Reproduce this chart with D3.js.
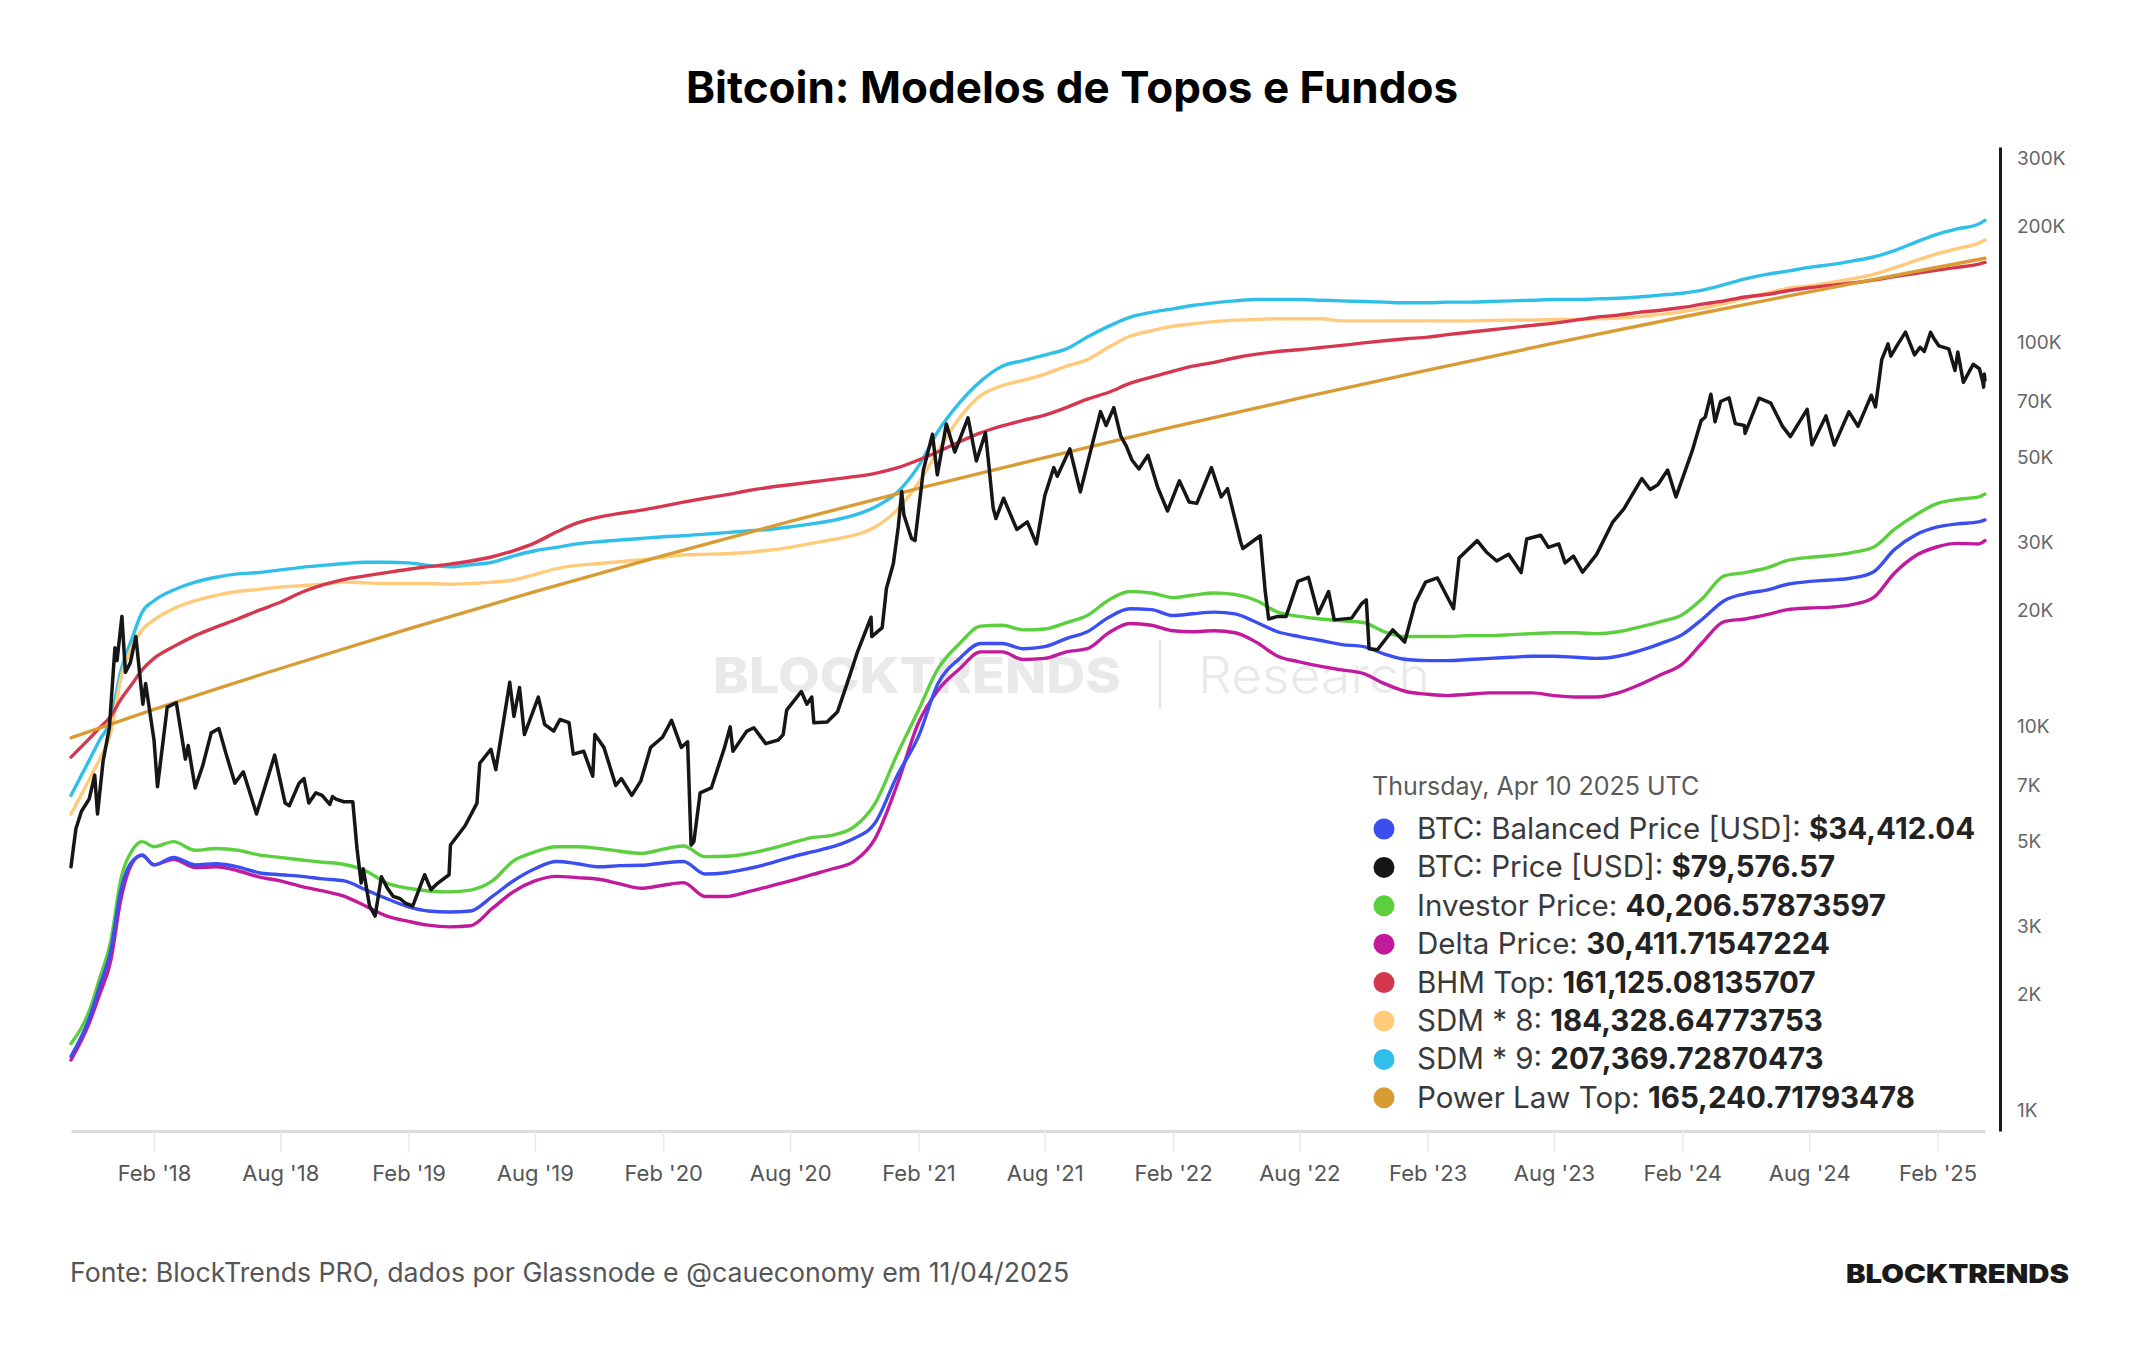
<!DOCTYPE html>
<html>
<head>
<meta charset="utf-8">
<script src="https://cdn.jsdelivr.net/npm/d3@7"></script>
<style>
  html, body { margin: 0; padding: 0; background: #fff; }
  svg { display: block; font-family: Inter, "Open Sans", sans-serif; }
</style>
</head>
<body>
<svg id="chart" width="2144" height="1350"></svg>
<script>
// dates shared by the on-chain model lines
const modelDates = ["2017-10-05","2017-11-01","2017-11-15","2017-12-01","2017-12-15","2018-01-01","2018-01-15",
  "2018-02-01","2018-03-01","2018-04-01","2018-05-01","2018-06-01","2018-07-01","2018-08-01","2018-09-01","2018-10-01","2018-11-01","2018-12-01",
  "2019-01-01","2019-02-01","2019-03-01","2019-04-01","2019-05-01","2019-06-01","2019-07-01","2019-08-01","2019-09-01","2019-10-01","2019-11-01","2019-12-01",
  "2020-01-01","2020-02-01","2020-03-01","2020-04-01","2020-05-01","2020-06-01","2020-07-01","2020-08-01","2020-09-01","2020-10-01","2020-11-01","2020-12-01",
  "2021-01-01","2021-02-01","2021-03-01","2021-04-01","2021-05-01","2021-06-01","2021-07-01","2021-08-01","2021-09-01","2021-10-01","2021-11-01","2021-12-01",
  "2022-01-01","2022-02-01","2022-03-01","2022-04-01","2022-05-01","2022-06-01","2022-07-01","2022-08-01","2022-09-01","2022-10-01","2022-11-01","2022-12-01",
  "2023-01-01","2023-02-01","2023-03-01","2023-04-01","2023-05-01","2023-06-01","2023-07-01","2023-08-01","2023-09-01","2023-10-01","2023-11-01","2023-12-01",
  "2024-01-01","2024-02-01","2024-03-01","2024-04-01","2024-05-01","2024-06-01","2024-07-01","2024-08-01","2024-09-01","2024-10-01","2024-11-01","2024-12-01",
  "2025-01-01","2025-02-01","2025-03-01","2025-04-01","2025-04-10"];

const balancedPrice = [1380,1750,2100,2600,3700,4450,4600,4350,4550,4350,4380,4300,4150,4100,4060,4000,3950,3750,
  3550,3380,3300,3280,3300,3600,3950,4250,4440,4380,4300,4330,
  4340,4400,4440,4120,4150,4250,4380,4550,4700,4850,5100,5600,
  7400,9400,12900,15000,16400,16400,15900,16100,16900,17600,19200,20200,
  20100,19400,19600,19800,19600,18600,17600,17100,16700,16300,16100,15400,
  14900,14800,14800,14900,15000,15100,15200,15200,15100,15000,15200,15700,
  16400,17300,19000,21200,22100,22600,23400,23800,24000,24300,25200,28800,
  31500,33000,33600,34000,34412];

const investorPrice = [1490,1830,2200,2750,3950,4750,5000,4850,5000,4750,4800,4750,4620,4550,4480,4420,4360,4200,
  3900,3780,3720,3700,3740,3950,4450,4700,4850,4850,4800,4720,
  4660,4780,4870,4570,4580,4650,4780,4950,5120,5200,5470,6300,
  8400,11000,14100,16400,18200,18300,17800,17900,18600,19400,21300,22400,
  22200,21600,21900,22200,22000,21200,19800,19300,19000,18800,18600,17600,
  17100,17100,17100,17200,17200,17300,17400,17500,17500,17400,17600,18100,
  18700,19500,21500,24600,25100,25800,27000,27500,27800,28300,29200,32500,
  35500,38000,38900,39500,40207];

const deltaPrice = [1350,1700,2000,2450,3500,4400,4620,4350,4500,4280,4300,4200,4050,3950,3820,3720,3600,3400,
  3200,3100,3030,3000,3020,3350,3700,3950,4060,4030,3990,3880,
  3780,3850,3910,3600,3600,3700,3820,3950,4100,4250,4450,5100,
  7000,10200,12400,14100,15600,15600,14900,15000,15600,15900,17500,18500,
  18300,17700,17600,17700,17500,16500,15200,14700,14300,14000,13700,12900,
  12300,12100,12000,12100,12200,12200,12200,12000,11900,11900,12200,12800,
  13600,14500,16500,18700,19000,19500,20100,20300,20400,20700,21600,25000,
  27800,29300,29900,29800,30412];

const bhmTop = [8300,9300,9900,10600,11700,12900,14000,15000,16100,17200,18100,19000,20000,21000,22300,23300,24100,24600,
  25100,25600,26000,26400,26900,27600,28600,30000,32000,33800,35000,35800,
  36500,37400,38300,39200,40000,41000,41800,42500,43200,43900,44600,45500,
  47000,49300,51800,55000,58000,60500,62500,64500,67500,71000,74000,78000,
  81000,84000,86500,88500,91000,93000,94500,95500,96800,98000,99500,100800,
  102000,103000,104500,106000,107500,109000,110500,112000,114000,116000,117500,119500,
  121000,123000,125500,128000,131000,133000,136000,138500,140500,142500,145000,148000,
  151000,154000,156500,159500,161125];

const sdm8 = [5900,7300,8200,9600,13200,16200,17800,18900,20200,21200,21900,22400,22700,23000,23200,23400,23700,23600,
  23500,23500,23500,23400,23500,23700,24000,24800,25700,26200,26500,26800,
  27100,27500,27900,28000,28100,28300,28700,29200,29900,30600,31400,33000,
  36500,43000,52000,63500,72500,77000,79500,82500,86500,90000,97000,103500,
  107000,110000,111500,113000,114000,114500,115000,115000,115000,113500,113500,113500,
  113500,113500,113500,113500,113800,114000,114000,114500,114500,115000,115500,116500,
  118000,120000,122500,126000,130000,134000,138000,140000,143000,146000,150000,156000,
  163000,170000,175000,181000,184329];

const sdm9 = [6600,8200,9200,10400,13800,17000,19800,21200,22600,23700,24400,24900,25100,25500,25900,26200,26500,26700,
  26700,26600,26200,26000,26300,26700,27700,28600,29200,29800,30200,30500,
  30800,31100,31300,31600,31900,32200,32500,33000,33600,34300,35400,37200,
  40500,47500,58500,69500,79000,86500,89500,92500,96000,103000,110000,116000,
  119500,122000,124500,126500,128000,129000,129000,129000,128500,128000,127500,127000,
  126500,126500,127000,127000,127500,128000,128500,129000,129000,129500,130000,131000,
  132500,134000,136500,141000,146000,150000,153000,156500,159000,162500,166500,173000,
  182000,191000,197000,203000,207370];

const powerDates = ["2017-10-05","2018-02-01","2018-08-01","2019-02-01","2019-08-01","2020-02-01","2020-08-01",
  "2021-02-01","2021-08-01","2022-02-01","2022-08-01","2023-02-01","2023-08-01","2024-02-01","2024-08-01","2025-02-01","2025-04-10"];
const powerLawTop = [9320,11050,14120,17900,22400,27800,34100,41600,50000,60100,71400,84500,99300,116200,135100,156600,165241];

const priceDates = ["2017-10-05","2017-10-12","2017-10-20","2017-10-31","2017-11-08","2017-11-12","2017-11-20","2017-11-29",
  "2017-12-07","2017-12-10","2017-12-17","2017-12-22","2017-12-29","2018-01-06","2018-01-16","2018-01-20","2018-02-01","2018-02-06",
  "2018-02-20","2018-03-05","2018-03-18","2018-03-22","2018-04-01","2018-04-12","2018-04-24","2018-05-05","2018-05-15","2018-05-28","2018-06-09",
  "2018-06-28","2018-07-08","2018-07-24","2018-08-08","2018-08-14","2018-08-28","2018-09-04","2018-09-11","2018-09-21","2018-09-30","2018-10-11",
  "2018-10-15","2018-10-20","2018-10-31","2018-11-13","2018-11-19","2018-11-25","2018-11-28","2018-12-07","2018-12-15","2018-12-24","2019-01-01","2019-01-10",
  "2019-01-20","2019-01-28","2019-02-07","2019-02-24","2019-03-05","2019-03-15","2019-03-31","2019-04-02","2019-04-23","2019-05-10","2019-05-14","2019-05-30",
  "2019-06-06","2019-06-26","2019-07-02","2019-07-10","2019-07-17","2019-08-06","2019-08-15","2019-08-28","2019-09-06","2019-09-13","2019-09-19","2019-09-25",
  "2019-10-10","2019-10-23","2019-10-26","2019-11-08","2019-11-25","2019-12-03","2019-12-18","2019-12-31","2020-01-14","2020-01-31","2020-02-13",
  "2020-02-27","2020-03-07","2020-03-12","2020-03-16","2020-03-25","2020-04-10","2020-04-29","2020-05-07","2020-05-11","2020-05-31",
  "2020-06-10","2020-06-27","2020-07-15","2020-07-22","2020-07-27","2020-08-17","2020-08-25","2020-09-01","2020-09-04","2020-09-23","2020-10-08","2020-10-21","2020-11-05",
  "2020-11-25","2020-11-26","2020-12-11","2020-12-17","2020-12-27","2021-01-03","2021-01-08","2021-01-11","2021-01-22","2021-01-27",
  "2021-02-08","2021-02-21","2021-02-28","2021-03-13","2021-03-25","2021-04-13","2021-04-25","2021-05-08","2021-05-12","2021-05-19",
  "2021-05-23","2021-06-03","2021-06-22","2021-07-07","2021-07-20","2021-08-01","2021-08-14","2021-08-19","2021-09-06","2021-09-21",
  "2021-10-01","2021-10-20","2021-10-28","2021-11-08","2021-11-18","2021-11-26","2021-12-04","2021-12-14","2021-12-27","2022-01-10",
  "2022-01-24","2022-02-10","2022-02-24","2022-03-07","2022-03-28","2022-04-11","2022-04-20","2022-05-09","2022-05-12","2022-06-06",
  "2022-06-13","2022-06-18","2022-07-01","2022-07-13","2022-07-30","2022-08-14","2022-08-28","2022-09-12","2022-09-20","2022-10-15",
  "2022-10-29","2022-11-05","2022-11-09","2022-11-21","2022-12-13","2022-12-30","2023-01-14","2023-01-29","2023-02-15","2023-03-10",
  "2023-03-18","2023-04-13","2023-04-26","2023-05-11","2023-05-28","2023-06-15","2023-06-23","2023-07-13","2023-07-24","2023-08-08","2023-08-17","2023-08-29","2023-09-11",
  "2023-10-01","2023-10-24","2023-11-09","2023-12-05","2023-12-17","2023-12-28","2024-01-11","2024-01-23","2024-02-15","2024-02-28","2024-03-05",
  "2024-03-13","2024-03-19","2024-03-27","2024-04-08","2024-04-17","2024-04-30","2024-05-01","2024-05-21","2024-06-07","2024-06-24",
  "2024-07-05","2024-07-29","2024-08-05","2024-08-25","2024-09-06","2024-09-27","2024-10-10","2024-10-29","2024-11-04","2024-11-13",
  "2024-11-22","2024-11-26","2024-12-05","2024-12-17","2024-12-30","2025-01-07","2025-01-13","2025-01-22","2025-01-27","2025-02-03",
  "2025-02-17","2025-02-26","2025-03-02","2025-03-10","2025-03-24","2025-04-02","2025-04-07","2025-04-08","2025-04-09","2025-04-10"];
const btcPrice = [4300,5400,6000,6450,7450,5900,8100,9900,
  16000,14800,19300,13800,14600,17100,11400,12900,9200,6950,
  11200,11500,8200,8900,6900,7900,9600,9850,8500,7100,7600,
  5900,6750,8400,6300,6200,7100,7300,6300,6700,6600,6250,
  6550,6450,6350,6350,4800,3900,4250,3400,3200,4050,3800,3600,
  3550,3450,3400,4100,3750,3900,4100,4900,5500,6300,8000,8700,
  7700,13000,10600,12600,9500,11900,10100,9700,10400,10300,10200,8450,
  8600,7400,9500,8800,7000,7300,6600,7200,8800,9350,10350,
  8800,9100,4900,5000,6700,6900,8800,9950,8600,9700,
  9900,9000,9200,9500,11000,12300,11400,11900,10200,10250,10900,12800,15500,
  19200,17100,18050,22800,26500,33000,40800,35500,30800,30400,
  46400,57500,45100,61200,51700,63500,49000,58000,49600,37000,
  34700,39200,32500,34000,29800,39800,47100,44700,52700,40700,
  48100,65900,60600,67500,56900,53600,49300,46700,50700,41800,
  36300,43500,38300,38000,47100,39500,41500,30100,29000,31300,
  22500,19000,19300,19300,23800,24400,19600,22400,18900,19100,
  20800,21300,15900,15800,17800,16550,20900,23700,24300,20200,
  27400,30400,28400,26900,28000,25100,30700,31400,29200,29800,26600,27700,25150,
  27950,33900,36700,44100,41300,42500,46400,39500,51900,62400,63800,
  73100,62000,70000,71600,61300,60600,57800,71400,69300,60200,
  56700,66800,54000,64200,53900,65800,60300,72700,67800,90000,
  98900,91900,98000,106100,92600,96900,94500,106000,102000,97700,
  96000,84300,94200,78500,87500,85200,78400,76300,82500,79576];

const xTickDates = ["2018-02-01","2018-08-01","2019-02-01","2019-08-01","2020-02-01","2020-08-01","2021-02-01","2021-08-01",
  "2022-02-01","2022-08-01","2023-02-01","2023-08-01","2024-02-01","2024-08-01","2025-02-01"];
const yTicks = [1000,2000,3000,5000,7000,10000,20000,30000,50000,70000,100000,200000,300000];
const yTickLabels = ["1K","2K","3K","5K","7K","10K","20K","30K","50K","70K","100K","200K","300K"];

const legendDate = "Thursday, Apr 10 2025 UTC";
const legendLabels = ["BTC: Balanced Price [USD]: ","BTC: Price [USD]: ","Investor Price: ","Delta Price: ","BHM Top: ","SDM * 8: ","SDM * 9: ","Power Law Top: "];
const legendValues = ["$34,412.04","$79,576.57","40,206.57873597","30,411.71547224","161,125.08135707","184,328.64773753","207,369.72870473","165,240.71793478"];
const seriesColors = ["#3b4ef0","#161616","#5ccf3f","#c21a9c","#d5374f","#ffca7a","#2fbfe9","#d99c35"];

const parse = d3.timeParse("%Y-%m-%d");
const plot = {left: 71, right: 1985, top: 147, bottom: 1131};
const svg = d3.select("#chart");

const xScale = d3.scaleTime()
  .domain([parse("2017-10-05"), parse("2025-04-10")])
  .range([plot.left, plot.right]);
const yScale = d3.scaleLog()
  .domain([882, 322000])
  .range([plot.bottom, plot.top]);

// title
svg.append("text")
  .attr("x", 1072).attr("y", 103)
  .attr("text-anchor", "middle")
  .attr("font-size", 44).attr("font-weight", 700).attr("fill", "#000")
  .text("Bitcoin: Modelos de Topos e Fundos");

// watermark (behind the lines)
let wm = svg.append("g");
wm.append("text").attr("x", 713).attr("y", 693)
  .attr("font-size", 50).attr("font-weight", 800).attr("fill", "#e9e9e9")
  .attr("textLength", 408).attr("lengthAdjust", "spacingAndGlyphs")
  .text("BLOCKTRENDS");
wm.append("line").attr("x1", 1160).attr("x2", 1160).attr("y1", 640).attr("y2", 709)
  .attr("stroke", "#e6e6e6").attr("stroke-width", 2);
wm.append("text").attr("x", 1198).attr("y", 693)
  .attr("font-size", 50).attr("font-weight", 300).attr("fill", "#e9e9e9")
  .attr("textLength", 232).attr("lengthAdjust", "spacingAndGlyphs")
  .text("Research");

// x axis
const xAxis = d3.axisBottom(xScale)
  .tickValues(xTickDates.map(parse))
  .tickFormat(d3.timeFormat("%b '%y"))
  .tickSize(21).tickSizeOuter(0).tickPadding(13);
let gx = svg.append("g")
  .attr("transform", "translate(0," + plot.bottom + ")")
  .call(xAxis)
  .attr("font-size", 22).attr("font-family", "Inter, sans-serif");
gx.select(".domain").attr("stroke", "#dcdcdc").attr("stroke-width", 3);
gx.selectAll(".tick line").attr("stroke", "#e8e8e8").attr("stroke-width", 1.5);
gx.selectAll(".tick text").attr("fill", "#555");

// y axis on the right
const yAxis = d3.axisRight(yScale)
  .tickValues(yTicks)
  .tickFormat((d, i) => yTickLabels[i])
  .tickSize(0).tickSizeOuter(0).tickPadding(17);
let gy = svg.append("g")
  .attr("transform", "translate(2000,0)")
  .call(yAxis)
  .attr("font-size", 19).attr("font-family", "Inter, sans-serif");
gy.select(".domain").attr("stroke", "#1a1a1a").attr("stroke-width", 3);
gy.selectAll(".tick text").attr("fill", "#666");

// lines
const smooth = d3.line()
  .x(d => xScale(d.date))
  .y(d => yScale(d.value))
  .curve(d3.curveMonotoneX);
const rough = d3.line()
  .x(d => xScale(d.date))
  .y(d => yScale(d.value));

function pairs(dates, values) {
  return dates.map((d, i) => ({date: parse(d), value: values[i]}));
}

let lines = svg.append("g").attr("fill", "none").attr("stroke-linejoin", "round").attr("stroke-linecap", "round");
let models = [
  {dates: modelDates, values: sdm9, color: seriesColors[6]},
  {dates: modelDates, values: sdm8, color: seriesColors[5]},
  {dates: modelDates, values: bhmTop, color: seriesColors[4]},
  {dates: powerDates, values: powerLawTop, color: seriesColors[7]},
  {dates: modelDates, values: investorPrice, color: seriesColors[2]},
  {dates: modelDates, values: deltaPrice, color: seriesColors[3]},
  {dates: modelDates, values: balancedPrice, color: seriesColors[0]}
];
models.forEach(m => {
  lines.append("path")
    .datum(pairs(m.dates, m.values))
    .attr("d", smooth)
    .attr("stroke", m.color)
    .attr("stroke-width", 3.4);
});
lines.append("path")
  .datum(pairs(priceDates, btcPrice))
  .attr("d", rough)
  .attr("stroke", seriesColors[1])
  .attr("stroke-width", 3.5);

// legend box
let legend = svg.append("g");
legend.append("rect")
  .attr("x", 1347).attr("y", 766).attr("width", 643).attr("height", 362)
  .attr("fill", "#fff");
legend.append("text")
  .attr("x", 1372).attr("y", 795)
  .attr("font-size", 25).attr("fill", "#5a5a5a")
  .text(legendDate);
legendLabels.forEach((label, i) => {
  let cy = 829 + i * 38.4;
  legend.append("circle")
    .attr("cx", 1384).attr("cy", cy).attr("r", 10.5)
    .attr("fill", seriesColors[i]);
  let t = legend.append("text")
    .attr("x", 1417).attr("y", cy + 10)
    .attr("font-size", 29.5);
  t.append("tspan").attr("fill", "#3a3a3a").text(label);
  t.append("tspan").attr("fill", "#222").attr("font-weight", 700).text(legendValues[i]);
});

// footer
svg.append("text")
  .attr("x", 70).attr("y", 1282)
  .attr("font-size", 26.7).attr("fill", "#555")
  .text("Fonte: BlockTrends PRO, dados por Glassnode e @caueconomy em 11/04/2025");
svg.append("text")
  .attr("x", 1846).attr("y", 1283)
  .attr("font-size", 26).attr("font-weight", 900).attr("fill", "#1a1a1a")
  .attr("textLength", 223).attr("lengthAdjust", "spacingAndGlyphs")
  .text("BLOCKTRENDS");
</script>
</body>
</html>
